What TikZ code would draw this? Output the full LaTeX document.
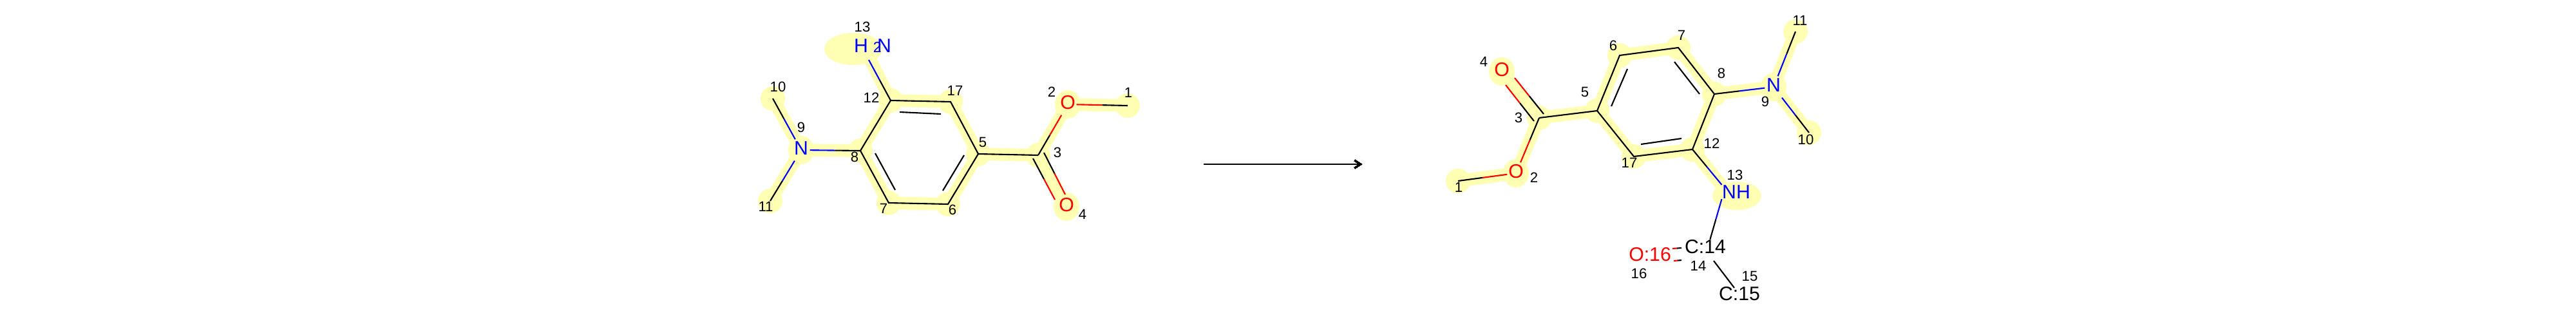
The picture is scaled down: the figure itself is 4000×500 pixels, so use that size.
\documentclass[tikz,border=0pt]{standalone}
\usepackage{fontspec}
\setmainfont{Liberation Sans}
\usetikzlibrary{arrows.meta,calc}
\definecolor{hilite}{HTML}{FFFFB3}
\tikzset{
	bond/.style={line width=0.6pt},
	hiband/.style={line width=5.6pt,hilite},
	atomlab/.style={inner sep=0pt,font=\fontsize{8.6}{9}\selectfont},
	hetero/.style={atomlab,minimum width=26*0.01cm,minimum height=32*0.01cm,text depth=1.6pt},
	maplab/.style={inner sep=0pt,font=\fontsize{6.3}{7}\selectfont}
}
% splits a bond at the middle of its visible part
\newcommand{\halfbond}[4]{
	\path (#1) -- coordinate (mid) (#2);
	\draw[bond,#3] (#1) -- (mid);
	\draw[bond,#4] (mid) -- (#2);
}
\begin{document}
\begin{tikzpicture}[x=0.01cm,y=-0.01cm]
	\useasboundingbox (0,0) rectangle (4000,500);
	% atoms
	\foreach \n/\x/\y in {l1/1751/164,l2/1658/162,l3/1612/241,l4/1656/321,l5/1519/239,l6/1472/317,l7/1380/315,l8/1336/234,l9/1244/233,l10/1200/153,l11/1196/312,l12/1383/156,l13/1340/70,l17/1476/158,
		r1/2264/281,r2/2354/269,r3/2390/183,r4/2332/111,r5/2480/172,r6/2515/86,r7/2606/74,r8/2662/146,r9/2754/135,r10/2809/206,r11/2788/49,r12/2628/232,r13/2683/300,r17/2537/243}
		\coordinate (\n) at (\x,\y);
	% ends of the double and cut bonds
	\foreach \n/\x/\y in {li1/1397/174,li2/1461/177,li3/1359/238,li4/1390/295,li5/1497/241,li6/1464/296,
		ld1/1621/237,ld2/1654/302,ld3/1604/246,ld4/1638/310,lb13/1349/93,
		ri1/2527/107,ri2/2502/165,ri3/2600/96,ri4/2639/146,ri5/2548/224,ri6/2611/215,
		rd1/2397/177,rd2/2352/121,rd3/2382/188,rd4/2338/132,
		rc1/2661/405,rc2/2693/447,ro1/2611/385,ro2/2597/386,ro3/2611/404,ro4/2599/405,arrowa/1869/255,arrowb/2115/255}
		\coordinate (\n) at (\x,\y);
	% highlight
	\draw[hiband] (l1) -- (l2) -- (l3) -- (l5) -- (l6) -- (l7) -- (l8) -- (l12) -- (l17) -- (l5);
	\draw[hiband] (l3) -- (l4) (l8) -- (l9) (l10) -- (l9) -- (l11) (l12) -- (l13);
	\draw[hiband] (r1) -- (r2) -- (r3) -- (r5) -- (r6) -- (r7) -- (r8) -- (r12) -- (r17) -- (r5);
	\draw[hiband] (r3) -- (r4) (r8) -- (r9) (r10) -- (r9) -- (r11) (r12) -- (r13);
	\foreach \a in {l1,l3,l5,l6,l7,l8,l10,l11,l12,l17,r1,r3,r5,r6,r7,r8,r10,r11,r12,r17}
		\fill[hilite] (\a) circle (19);
	\foreach \a in {l2,l4,l9,r2,r4,r9}
		\fill[hilite] (\a) ellipse [x radius=20,y radius=22];
	\fill[hilite] (1325,76) ellipse [x radius=45,y radius=25];
	\fill[hilite] (2697,304) ellipse [x radius=38,y radius=22];
	% atom labels
	\foreach \a/\t/\c in {l2/O/red,l4/O/red,l9/N/blue,r2/O/red,r4/O/red,r9/N/blue}
		\node[hetero,text=\c] (\a t) at (\a) {\t};
	\node[atomlab,text=blue] (l13t) at (1355,71) {H\kern2.2pt{\fontsize{6.6}{7}\selectfont 2}\kern-1.9pt N};
	\node[atomlab,text=blue] (r13t) at (2696,298) {NH};
	\node[atomlab] (r14t) at (2648,383) {C:14};
	\node[atomlab] (r15t) at (2701,456) {C:15};
	\node[atomlab,text=red] (r16t) at (2562,395) {O:16};
	% bonds
	\draw[bond] (l3) -- (l5) -- (l6) -- (l7) -- (l8) -- (l12) -- (l17) -- (l5);
	\draw[bond] (r3) -- (r5) -- (r6) -- (r7) -- (r8) -- (r12) -- (r17) -- (r5);
	\foreach \a/\b in {li1/li2,li3/li4,li5/li6,ri1/ri2,ri3/ri4,ri5/ri6,rc1/rc2}
		\draw[bond] (\a) -- (\b);
	\foreach \a/\b/\p/\q in {l1/l2t/black/red,l3/l2t/black/red,ld1/ld2/black/red,ld3/ld4/black/red,l8/l9t/black/blue,l10/l9t/black/blue,l11/l9t/black/blue,l12/lb13/black/blue,
		r1/r2t/black/red,r3/r2t/black/red,rd1/rd2/black/red,rd3/rd4/black/red,r8/r9t/black/blue,r11/r9t/black/blue,r10/r9t/black/blue,r12/r13t.north west/black/blue,r14t.57/r13t.south west/black/blue,ro1/ro2/black/red,ro3/ro4/black/red}
		\halfbond{\a}{\b}{\p}{\q}
	% reaction arrow
	\draw[line width=0.75pt,-{Straight Barb[length=2.6pt,width=3.4pt]}] (arrowa) -- (arrowb);
	% atom map numbers
	\foreach \x/\y/\t in {1752/144/1,1633/143/2,1642/237/3,1681/333/4,1526/221/5,1479/326/6,1372/324/7,1327/244/8,1244/198/9,1208/135/10,1189/321/11,1353/152/12,1339/42/13,1483/141/17,
		2265/291/1,2382/276/2,2358/183/3,2304/96/4,2461/143/5,2505/71/6,2611/55/7,2673/114/8,2741/158/9,2804/217/10,2795/32/11,2658/223/12,2694/272/13,2637/413/14,2717/429/15,2545/425/16,2530/253/17}
		\node[maplab] at (\x,\y) {\t};
\end{tikzpicture}
\end{document}
